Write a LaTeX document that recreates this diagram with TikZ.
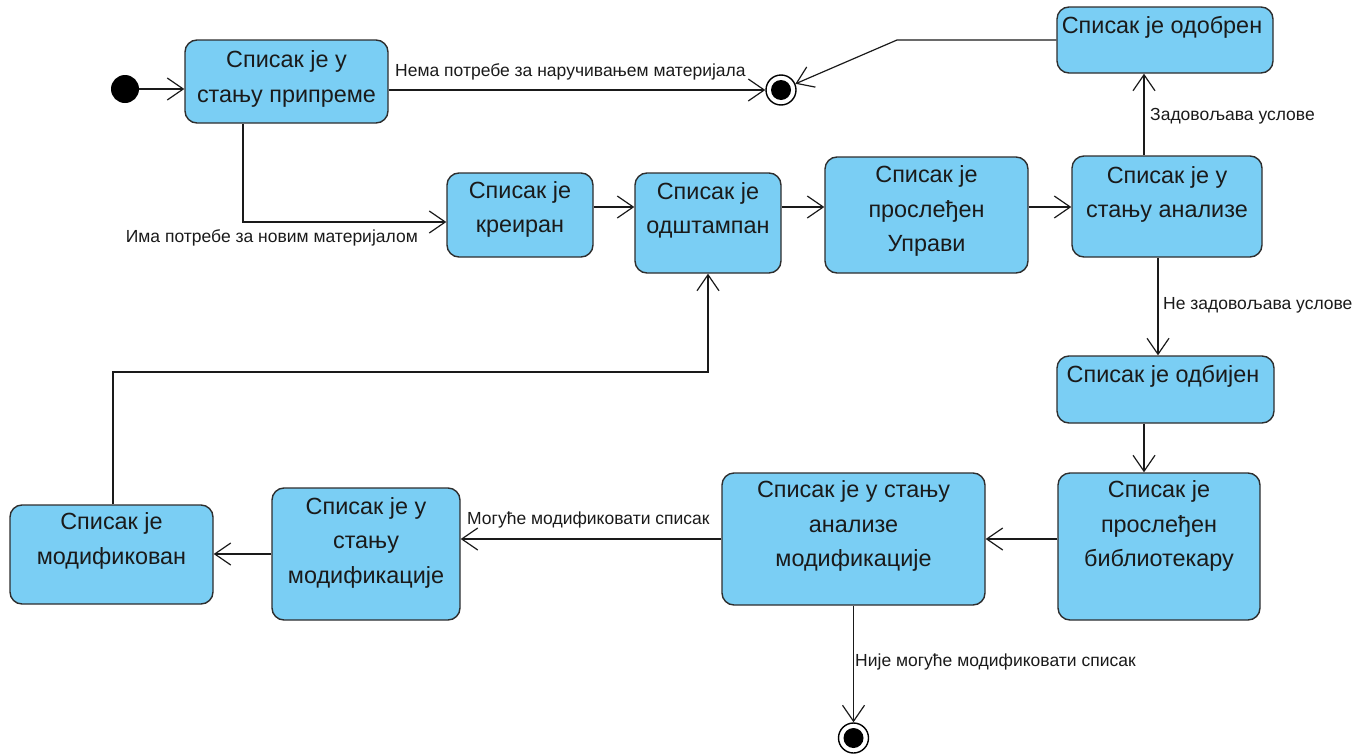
\documentclass[tikz,border=0pt]{standalone}
\usepackage{fontspec}
\setmainfont{Liberation Sans}
\usetikzlibrary{arrows.meta,calc}
\definecolor{statefill}{HTML}{7ACEF4}
\definecolor{stateline}{HTML}{2E2E2E}
\definecolor{inkcol}{HTML}{1A1A1A}
\begin{document}
\begin{tikzpicture}[x=1pt,y=-1pt,
  box/.style={draw=stateline, fill=statefill, rounded corners=12pt, line width=1.4pt, inner sep=0pt},
  txt/.style={align=center, font=\fontsize{23.4}{34.5}\selectfont, inner sep=0pt, text=inkcol},
  lbl/.style={font=\fontsize{17.5}{21}\selectfont, inner sep=0pt, text=inkcol},
  arr/.style={line width=1.2pt, draw=inkcol, -{Straight Barb[length=16pt,width=22pt,line width=1.2pt]}},
  initst/.style={circle, fill=black, minimum size=28pt, inner sep=0pt},
  finalst/.style={circle, draw=black, fill=white, line width=1.4pt, minimum size=30pt, inner sep=0pt,
    path picture={\fill[black] (path picture bounding box.center) circle (10pt);}}
]
\useasboundingbox (0,0) rectangle (1371,755);

% pseudo states
\node[initst] (init) at (125,89) {};
\node[finalst] (fin1) at (781,90) {};
\node[finalst] (fin2) at (853.5,738) {};

% state boxes
\node[box, minimum width=203pt, minimum height=83pt]  (prip) at (286.5,81.5) {};
\node[box, minimum width=146pt, minimum height=84pt]  (kre)  at (520,215) {};
\node[box, minimum width=146pt, minimum height=100pt] (odst) at (708,223) {};
\node[box, minimum width=203pt, minimum height=116pt] (upr)  at (926.5,215) {};
\node[box, minimum width=190pt, minimum height=101pt] (anal) at (1167,206.5) {};
\node[box, minimum width=216pt, minimum height=66pt]  (odob) at (1165,40) {};
\node[box, minimum width=217pt, minimum height=67pt]  (odbi) at (1165.5,389.5) {};
\node[box, minimum width=202pt, minimum height=147pt] (bibl) at (1159,546.5) {};
\node[box, minimum width=263pt, minimum height=132pt] (amod) at (853.5,539) {};
\node[box, minimum width=188pt, minimum height=132pt] (smod) at (366,554) {};
\node[box, minimum width=203pt, minimum height=99pt]  (modi) at (111.5,554.5) {};

% state names
\node[txt] (tprip) at (286.5,79)  {Списак је у\\стању припреме};
\node[txt] (tkre)  at (520,209.5) {Списак је\\креиран};
\node[txt] (todst) at (708,210.5) {Списак је\\одштампан};
\node[txt] (tupr)  at (926.5,211) {Списак је\\прослеђен\\Управи};
\node[txt] (tanal) at (1167,194.5) {Списак је у\\стању анализе};
\node[txt] (todob) at (1162,27)   {Списак је одобрен};
\node[txt] (todbi) at (1163,376)  {Списак је одбијен};
\node[txt] (tbibl) at (1159,526)  {Списак је\\прослеђен\\библиотекару};
\node[txt] (tamod) at (853.5,526) {Списак је у стању\\анализе\\модификације};
\node[txt] (tsmod) at (366,542.5) {Списак је у\\стању\\модификације};
\node[txt] (tmodi) at (111.5,541) {Списак је\\модификован};

% transitions
\draw[arr] (init) -- (init -| prip.west);
\draw[arr] (prip.east |- fin1) -- (fin1);
\draw[arr] (odob.west) -- (897,40) -- (fin1);
\draw[arr] ($(prip.south)+(-43.5,0)$) |- ($(kre.west)+(0,7)$);
\draw[arr] (kre.east |- 0,207) -- (odst.west |- 0,207);
\draw[arr] (odst.east |- 0,207) -- (upr.west |- 0,207);
\draw[arr] (upr.east |- 0,207) -- (anal.west |- 0,207);
\draw[arr] (anal.north -| 1144,0) -- (odob.south -| 1144,0);
\draw[arr] (anal.south -| 1158,0) -- (odbi.north -| 1158,0);
\draw[arr] (odbi.south -| 1144,0) -- (bibl.north -| 1144,0);
\draw[arr] (bibl.west |- 0,539) -- (amod.east |- 0,539);
\draw[arr] (amod.west |- 0,539) -- (smod.east |- 0,539);
\draw[arr] (smod.west |- 0,554) -- (modi.east |- 0,554);
\draw[arr] (modi.north -| 113,0) |- (odst.south |- 0,372) -- (odst.south);
\draw[arr] (amod.south -| fin2) -- (fin2);

% guard labels
\node[lbl, anchor=west] (g1) at (395,72)   {Нема потребе за наручивањем материјала};
\node[lbl, anchor=east] (g2) at (418,238)  {Има потребе за новим материјалом};
\node[lbl, anchor=west] (g3) at (1150,116) {Задовољава услове};
\node[lbl, anchor=west] (g4) at (1163,305) {Не задовољава услове};
\node[lbl, anchor=west] (g5) at (467,520)  {Могуће модификовати списак};
\node[lbl, anchor=west] (g6) at (855,662)  {Није могуће модификовати списак};
\end{tikzpicture}
\end{document}
